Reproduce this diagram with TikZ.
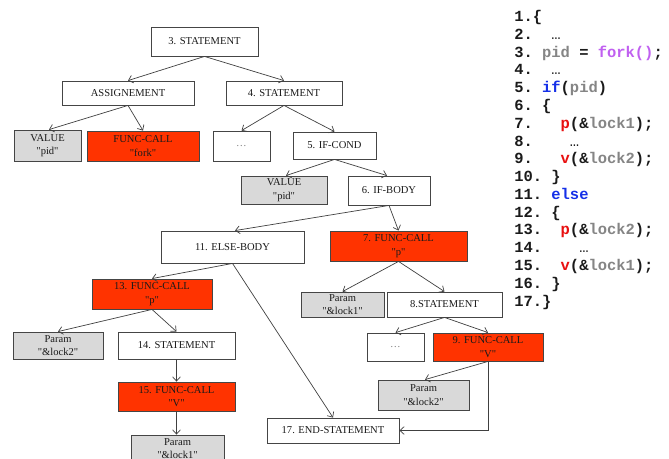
\documentclass[tikz,border=0pt]{standalone}
\usepackage{fontspec}
\setmainfont{Liberation Serif}
\newfontfamily\codefont{Liberation Mono}
\usepackage{xcolor}
\usetikzlibrary{arrows.meta}

\definecolor{boxline}{HTML}{454545}
\definecolor{linkgray}{HTML}{404040}
\definecolor{valgray}{HTML}{D9D9D9}
\definecolor{callred}{HTML}{FF3300}
\definecolor{codeblack}{HTML}{1A1A1A}
\definecolor{codegray}{HTML}{858585}
\definecolor{codeviolet}{HTML}{C060F0}
\definecolor{codeblue}{HTML}{1530E8}
\definecolor{codered}{HTML}{E81010}

\newcommand{\idn}[1]{\textcolor{codegray}{#1}}
\newcommand{\fnc}[1]{\textcolor{codeviolet}{#1}}
\newcommand{\kwd}[1]{\textcolor{codeblue}{#1}}
\newcommand{\prim}[1]{\textcolor{codered}{#1}}
\newcommand{\qt}[1]{\textquotedbl#1\textquotedbl}

\tikzset{
  box/.style={draw=boxline,line width=0.6pt,fill=white,inner sep=0pt,align=center,
    text=codeblack,font=\fontsize{7.5}{9.5}\selectfont},
  valbox/.style={box,fill=valgray},
  callbox/.style={box,fill=callred},
  sz/.style 2 args={minimum width=#1*0.025cm,minimum height=#2*0.025cm},
  link/.style={draw=linkgray,line width=0.5pt,-{Straight Barb[length=3pt,width=5.5pt]}},
  codeline/.style={anchor=base west,inner sep=0pt,text=codeblack,
    font=\codefont\bfseries\fontsize{11}{12}\selectfont}
}

\begin{document}
\begin{tikzpicture}[x=0.025cm,y=-0.025cm]
    \useasboundingbox (0,0) rectangle (669,459);

    % tree, top
    \node[box,sz={107}{29}] (st3) at (204.5,41.5) {3. STATEMENT};
    \node[box,sz={132}{24}] (assign) at (128,93) {ASSIGNEMENT};
    \node[box,sz={116}{24}] (st4) at (284,93) {4. STATEMENT};
    \node[valbox,sz={67}{31}] (val1) at (47.5,145.5) {VALUE\\\qt{pid}};
    \node[callbox,sz={112}{30}] (fork) at (143,146) {FUNC-CALL\\\qt{fork}};
    \node[box,sz={57}{30}] (dots1) at (241.5,146) {\textcolor{gray}{\dots}};
    \node[box,sz={83}{27}] (ifcond) at (334.5,145.5) {5. IF-COND};
    \node[valbox,sz={86}{28}] (val2) at (284,190) {VALUE\\\qt{pid}};
    \node[box,sz={82}{29}] (ifbody) at (389,190.5) {6. IF-BODY};

    % else branch
    \node[box,sz={143}{32}] (elsebody) at (232.5,247) {11. ELSE-BODY};
    \node[callbox,sz={120}{30}] (call13) at (152,294) {13. FUNC-CALL\\\qt{p}};
    \node[valbox,sz={90}{27}] (parB) at (58,345.5) {Param\\\qt{\&lock2}};
    \node[box,sz={117}{27}] (st14) at (176.5,345.5) {14. STATEMENT};
    \node[callbox,sz={117}{29}] (call15) at (176.5,396.5) {15. FUNC-CALL\\\qt{V}};
    \node[valbox,sz={93}{27}] (parD) at (177.5,448.5) {Param\\\qt{\&lock1}};
    \node[box,sz={132}{25}] (end17) at (333,430.5) {17. END-STATEMENT};

    % if branch
    \node[callbox,sz={137}{30}] (call7) at (398.5,246) {7. FUNC-CALL\\\qt{p}};
    \node[valbox,sz={83}{25}] (parA) at (342.5,304.5) {Param\\\qt{\&lock1}};
    \node[box,sz={115}{25}] (st8) at (444.5,304.5) {8.STATEMENT};
    \node[box,sz={57}{28}] (dots2) at (395.5,347) {\textcolor{gray}{\dots}};
    \node[callbox,sz={110}{28}] (call9) at (488,347) {9. FUNC-CALL\\\qt{V}};
    \node[valbox,sz={91}{30}] (parC) at (423.5,395) {Param\\\qt{\&lock2}};

    % links
    \draw[link] (st3.south) -- (assign.north);
    \draw[link] (st3.south) -- (st4.north);
    \draw[link] (assign.south) -- ([xshift=1.5*0.025cm]val1.north);
    \draw[link] (assign.south) -- (fork.north);
    \draw[link] (st4.south) -- (dots1.north);
    \draw[link] (st4.south) -- (ifcond.north);
    \draw[link] (ifcond.south) -- ([xshift=2*0.025cm]val2.north);
    \draw[link] (ifcond.south) -- ([xshift=-2*0.025cm]ifbody.north);
    \draw[link] (ifbody.south) -- ([xshift=2.5*0.025cm]elsebody.north);
    \draw[link] (ifbody.south) -- (call7.north);
    \draw[link] (elsebody.south) -- (call13.north);
    \draw[link] (elsebody.south) -- (end17.north);
    \draw[link] (call13.south) -- (parB.north);
    \draw[link] (call13.south) -- (st14.north);
    \draw[link] (st14.south) -- (call15.north);
    \draw[link] (call15.south) -- (call15.south |- parD.north);
    \draw[link] (call7.south) -- (parA.north);
    \draw[link] (call7.south) -- (st8.north);
    \draw[link] (st8.south) -- (dots2.north);
    \draw[link] (st8.south) -- (call9.north);
    \draw[link] (call9.south) -- ([xshift=1.5*0.025cm]parC.north);
    \draw[link] (call9.south) |- (end17.east);

    % source listing
    \node[codeline] (code1) at (514,21.7) {1.\{};
    \node[codeline] (code2) at (514,39.5) {2.~~\mdseries…};
    \node[codeline] (code3) at (514,57.2) {3.~\idn{pid}~=~\fnc{fork()};};
    \node[codeline] (code4) at (514,75.0) {4.~~\mdseries…};
    \node[codeline] (code5) at (514,92.8) {5.~\kwd{if}(\idn{pid})};
    \node[codeline] (code6) at (514,110.5) {6.~\{};
    \node[codeline] (code7) at (514,128.3) {7.~~~\prim{p}(\&\idn{lock1});};
    \node[codeline] (code8) at (514,146.1) {8.~~~~\mdseries…};
    \node[codeline] (code9) at (514,163.9) {9.~~~\prim{v}(\&\idn{lock2});};
    \node[codeline] (code10) at (514,181.6) {10.~\}};
    \node[codeline] (code11) at (514,199.4) {11.~\kwd{else}};
    \node[codeline] (code12) at (514,217.2) {12.~\{};
    \node[codeline] (code13) at (514,234.9) {13.~~\prim{p}(\&\idn{lock2});};
    \node[codeline] (code14) at (514,252.7) {14.~~~~\mdseries…};
    \node[codeline] (code15) at (514,270.5) {15.~~\prim{v}(\&\idn{lock1});};
    \node[codeline] (code16) at (514,288.2) {16.~\}};
    \node[codeline] (code17) at (514,306.0) {17.\}};
\end{tikzpicture}
\end{document}
